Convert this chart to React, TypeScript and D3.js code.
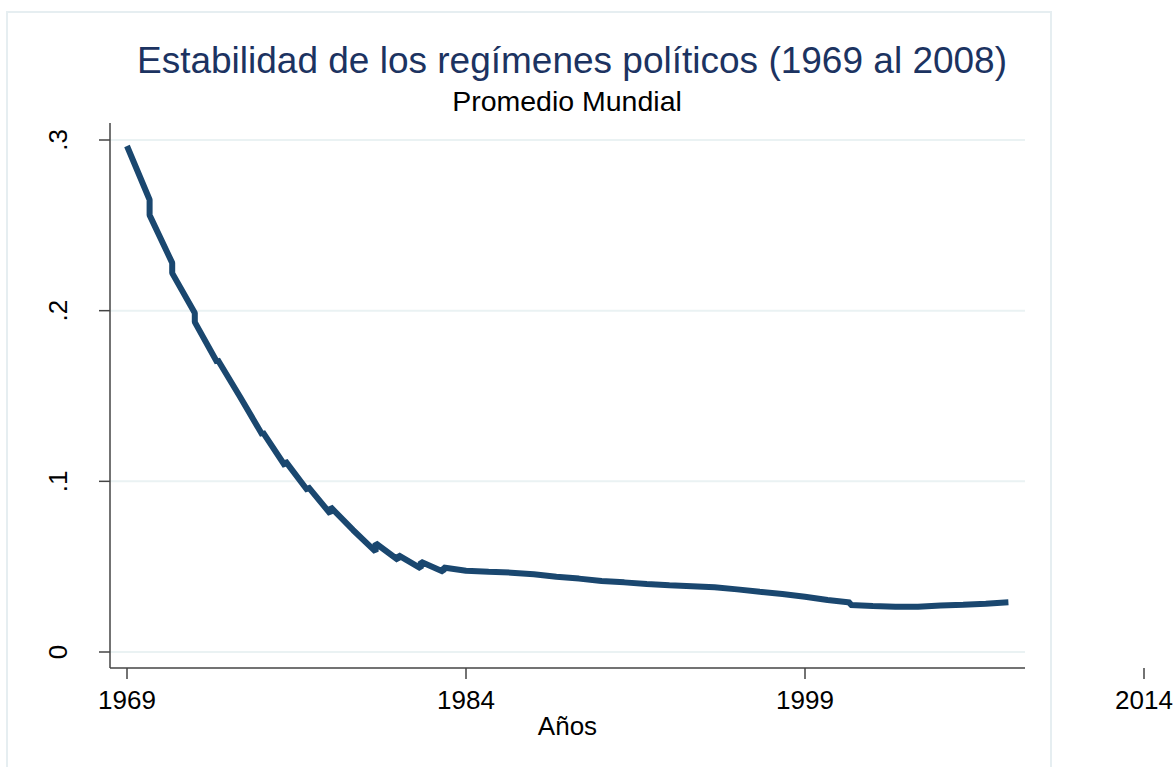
import React from 'react';
import * as d3 from 'd3';

// yearly world average; some years have a step (value reached, value left)
const years = [
  1969, 1970, 1971, 1972, 1973, 1974, 1975, 1976, 1977, 1978,
  1979, 1980, 1981, 1982, 1983, 1984, 1985, 1986, 1987, 1988,
  1989, 1990, 1991, 1992, 1993, 1994, 1995, 1996, 1997, 1998,
  1999, 2000, 2001, 2002, 2003, 2004, 2005, 2006, 2007, 2008,
];
const arriveValues = [
  0.2965, 0.265, 0.228, 0.1986, 0.1695, 0.1496, 0.127, 0.109, 0.0945, 0.081,
  0.0715, 0.0588, 0.0539, 0.049, 0.047, 0.0476, 0.047, 0.0465, 0.0455, 0.0441,
  0.043, 0.0416, 0.0408, 0.0398, 0.0391, 0.0385, 0.0379, 0.0367, 0.0353, 0.034,
  0.0324, 0.0305, 0.029, 0.0269, 0.0265, 0.0265, 0.0273, 0.0277, 0.0283, 0.0291,
];
const leaveValues = [
  0.2965, 0.256, 0.222, 0.1933, 0.1715, 0.1496, 0.129, 0.112, 0.097, 0.085,
  0.0715, 0.0637, 0.0568, 0.0529, 0.0495, 0.0476, 0.047, 0.0465, 0.0455, 0.0441,
  0.043, 0.0416, 0.0408, 0.0398, 0.0391, 0.0385, 0.0379, 0.0367, 0.0353, 0.034,
  0.0324, 0.0305, 0.0275, 0.0269, 0.0265, 0.0265, 0.0273, 0.0277, 0.0283, 0.0291,
];

const xTicks = [1969, 1984, 1999, 2014];
const yTicks = [0, 0.1, 0.2, 0.3];
const yTickLabels = ['0', '.1', '.2', '.3'];

const title = 'Estabilidad de los regímenes políticos (1969 al 2008)';
const subtitle = 'Promedio Mundial';
const xTitle = 'Años';

const W = 1175;
const H = 767;
const plot = { left: 110, right: 1025, top: 123, bottom: 668 };
const font = '"Liberation Sans", Arial, sans-serif';

export default function App() {
  const x = d3.scaleLinear().domain([1969, 2014]).range([127, 1144]);
  const y = d3.scaleLinear().domain([0, 0.3]).range([652, 140]);

  const pts: [number, number][] = [];
  years.forEach((yr, i) => {
    pts.push([yr, arriveValues[i]]);
    if (leaveValues[i] !== arriveValues[i]) pts.push([yr, leaveValues[i]]);
  });
  const line = d3.line<[number, number]>()
    .x(d => x(d[0]))
    .y(d => y(d[1]));

  const midX = (plot.left + plot.right) / 2;

  return (
    <svg width={W} height={H} style={{ position: 'absolute', left: 0, top: 0, background: '#fff' }}
      fontFamily={font}>
      <rect x={7} y={12} width={1044} height={770} fill="none" stroke="#e6eef1" strokeWidth={2} />

      <text x={572} y={73} textAnchor="middle" fontSize={37} fill="#1c3361">{title}</text>
      <text x={567} y={111} textAnchor="middle" fontSize={28.5} fill="#000">{subtitle}</text>

      {yTicks.map(t => (
        <line key={'g' + t} x1={plot.left} x2={plot.right} y1={y(t)} y2={y(t)}
          stroke="#eaf2f3" strokeWidth={2} />
      ))}

      <path d={line(pts) || ''} fill="none" stroke="#1a476f" strokeWidth={6} strokeLinejoin="bevel" />

      <line x1={plot.left} x2={plot.left} y1={plot.top} y2={plot.bottom} stroke="#444" strokeWidth={1.5} />
      <line x1={plot.left} x2={plot.right} y1={plot.bottom} y2={plot.bottom} stroke="#444" strokeWidth={1.5} />

      {yTicks.map((t, i) => (
        <g key={'y' + t}>
          <line x1={plot.left - 11} x2={plot.left} y1={y(t)} y2={y(t)} stroke="#444" strokeWidth={1.5} />
          <text x={67} y={y(t)} transform={`rotate(-90, 67, ${y(t)})`} textAnchor="middle"
            fontSize={26} fill="#000">{yTickLabels[i]}</text>
        </g>
      ))}

      {xTicks.map(t => (
        <g key={'x' + t}>
          <line x1={x(t)} x2={x(t)} y1={plot.bottom} y2={plot.bottom + 11} stroke="#444" strokeWidth={1.5} />
          <text x={x(t)} y={709} textAnchor="middle" fontSize={26} fill="#000">{t}</text>
        </g>
      ))}

      <text x={midX} y={735} textAnchor="middle" fontSize={26} fill="#000">{xTitle}</text>
    </svg>
  );
}
